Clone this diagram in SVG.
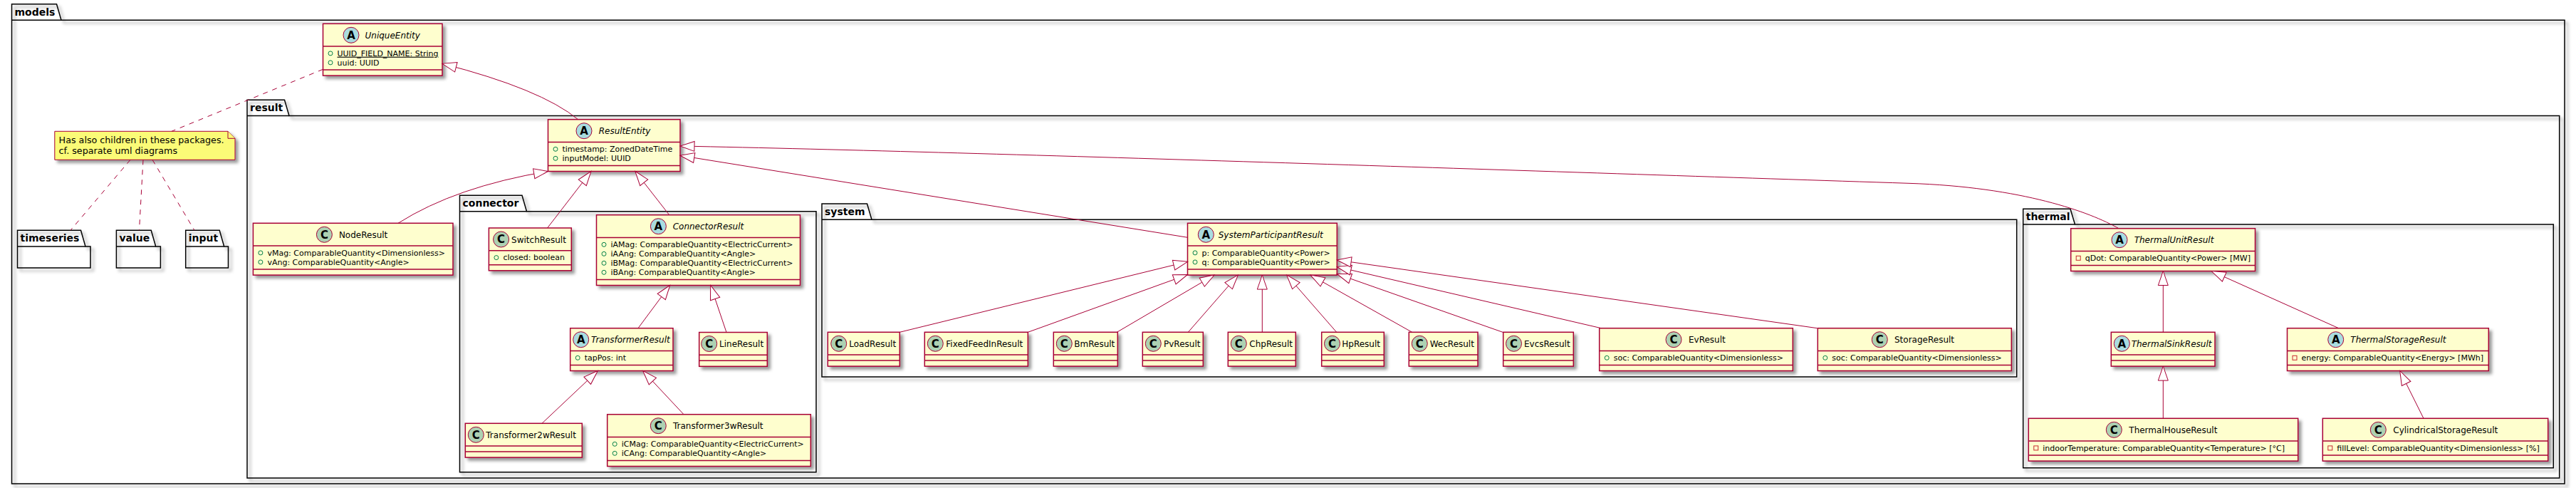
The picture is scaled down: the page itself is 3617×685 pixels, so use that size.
<svg xmlns="http://www.w3.org/2000/svg" width="3617" height="685" viewBox="0 0 3617 685">
<defs>
<filter id="sh" x="-0.1" y="-0.1" width="1.3" height="1.3">
<feGaussianBlur in="SourceAlpha" stdDeviation="2" result="b"/>
<feColorMatrix in="b" type="matrix" values="0 0 0 0 0  0 0 0 0 0  0 0 0 0 0  0 0 0 0.4 0" result="b2"/>
<feOffset in="b2" dx="4" dy="4" result="b3"/>
<feBlend in="SourceGraphic" in2="b3" mode="normal"/>
</filter>
<marker id="ext" markerUnits="userSpaceOnUse" markerWidth="22" markerHeight="16" viewBox="0 0 22 16" refX="20" refY="8" orient="auto" overflow="visible">
<path d="M20,8 L0,1 L0,15 Z" fill="#FFFFFF" stroke="#A80036" stroke-width="1"/>
</marker>
</defs>
<style>
text { font-family: "DejaVu Sans", "Liberation Sans", sans-serif; fill: #000000; }
.pkg { fill: none; stroke: #000000; stroke-width: 1.5; filter: url(#sh); }
.pkl { fill: none; stroke: #000000; stroke-width: 1.5; }
.pt { font-size: 14px; font-weight: bold; }
.box { fill: #FEFECE; stroke: #A80036; stroke-width: 1.5; filter: url(#sh); }
.dv { stroke: #A80036; stroke-width: 1.5; }
.cc { fill: #ADD1B2; stroke: #A80036; stroke-width: 1; }
.ca { fill: #A9DCDF; stroke: #A80036; stroke-width: 1; }
.lt { font-size: 15px; font-weight: bold; text-anchor: middle; }
.nm { font-size: 12px; }
.ab { font-style: italic; }
.at { font-size: 11px; }
.pub { fill: none; stroke: #038048; stroke-width: 1; }
.pri { fill: none; stroke: #C82930; stroke-width: 1; }
.note { fill: #FBFB77; stroke: #A80036; stroke-width: 1; filter: url(#sh); }
.nt { font-size: 13px; }
.ln { fill: none; stroke: #A80036; stroke-width: 1; marker-end: url(#ext); }
.dl { fill: none; stroke: #A80036; stroke-width: 1; stroke-dasharray: 7,7; }
</style>
<rect x="0" y="0" width="3617" height="685" fill="#FFFFFF"/>

<!-- packages -->
<g id="pkg-models">
<path class="pkg" d="M16.5,5.7 L79.5,5.7 L86,28.3 L3601,28.3 L3601,679 L16.5,679 Z"/>
<line class="pkl" x1="16.5" y1="28.3" x2="86" y2="28.3"/>
<text class="pt" x="20.5" y="21.7">models</text>
</g>
<g id="pkg-result">
<path class="pkg" d="M347,140.3 L399.5,140.3 L406,162.5 L3593.7,162.5 L3593.7,671 L347,671 Z"/>
<line class="pkl" x1="347" y1="162.5" x2="406" y2="162.5"/>
<text class="pt" x="351" y="156.3">result</text>
</g>
<g id="pkg-connector">
<path class="pkg" d="M645.5,274.3 L733,274.3 L739.5,296.7 L1146,296.7 L1146,662.7 L645.5,662.7 Z"/>
<line class="pkl" x1="645.5" y1="296.7" x2="739.5" y2="296.7"/>
<text class="pt" x="649.5" y="290.3">connector</text>
</g>
<g id="pkg-system">
<path class="pkg" d="M1154,286 L1217.5,286 L1224,308.3 L2831.7,308.3 L2831.7,529 L1154,529 Z"/>
<line class="pkl" x1="1154" y1="308.3" x2="1224" y2="308.3"/>
<text class="pt" x="1158" y="302">system</text>
</g>
<g id="pkg-thermal">
<path class="pkg" d="M2840.7,293.3 L2907,293.3 L2913.5,315 L3585.3,315 L3585.3,656.7 L2840.7,656.7 Z"/>
<line class="pkl" x1="2840.7" y1="315" x2="2913.5" y2="315"/>
<text class="pt" x="2844.7" y="309.3">thermal</text>
</g>
<g id="pkg-timeseries">
<path class="pkg" d="M24.5,323.3 L113.5,323.3 L120,346 L127,346 L127,376 L24.5,376 Z"/>
<line class="pkl" x1="24.5" y1="346" x2="120" y2="346"/>
<text class="pt" x="28.5" y="339.3">timeseries</text>
</g>
<g id="pkg-value">
<path class="pkg" d="M163.4,323.3 L212.2,323.3 L218.7,346 L225.4,346 L225.4,376 L163.4,376 Z"/>
<line class="pkl" x1="163.4" y1="346" x2="218.7" y2="346"/>
<text class="pt" x="167.4" y="339.3">value</text>
</g>
<g id="pkg-input">
<path class="pkg" d="M260.7,323.3 L308.2,323.3 L314.7,346 L320.5,346 L320.5,376 L260.7,376 Z"/>
<line class="pkl" x1="260.7" y1="346" x2="314.7" y2="346"/>
<text class="pt" x="264.7" y="339.3">input</text>
</g>

<!-- note -->
<g id="note">
<path class="note" d="M76.8,184.3 L320,184.3 L330,194.3 L330,224.3 L76.8,224.3 Z"/>
<path d="M320,184.3 L320,194.3 L330,194.3" fill="#FBFB77" stroke="#A80036" stroke-width="1"/>
<text class="nt" x="82.6" y="200.5" textLength="232" lengthAdjust="spacingAndGlyphs">Has also children in these packages.</text>
<text class="nt" x="82.6" y="215.7" textLength="166.5" lengthAdjust="spacingAndGlyphs">cf. separate uml diagrams</text>
</g>

<!-- classes -->
<g id="UniqueEntity">
<rect class="box" x="453.5" y="33.3" width="167.5" height="72.8"/>
<circle class="ca" cx="493" cy="49.3" r="11"/><text class="lt" x="493" y="54.6">A</text>
<text class="nm ab" x="512.5" y="53.8">UniqueEntity</text>
<line class="dv" x1="453.5" y1="65.1" x2="621" y2="65.1"/>
<circle class="pub" cx="464" cy="74.9" r="3"/><text class="at" x="473.5" y="78.7" text-decoration="underline" textLength="142" lengthAdjust="spacingAndGlyphs">UUID_FIELD_NAME: String</text>
<circle class="pub" cx="464" cy="87.9" r="3"/><text class="at" x="473.5" y="91.7">uuid: UUID</text>
<line class="dv" x1="453.5" y1="98.1" x2="621" y2="98.1"/>
</g>

<g id="ResultEntity">
<rect class="box" x="769.5" y="167.7" width="185.5" height="72.8"/>
<circle class="ca" cx="820" cy="183.7" r="11"/><text class="lt" x="820" y="189">A</text>
<text class="nm ab" x="840.7" y="188.2">ResultEntity</text>
<line class="dv" x1="769.5" y1="199.5" x2="955" y2="199.5"/>
<circle class="pub" cx="780" cy="209.3" r="3"/><text class="at" x="789.5" y="213.1">timestamp: ZonedDateTime</text>
<circle class="pub" cx="780" cy="222.3" r="3"/><text class="at" x="789.5" y="226.1">inputModel: UUID</text>
<line class="dv" x1="769.5" y1="232.5" x2="955" y2="232.5"/>
</g>

<g id="NodeResult">
<rect class="box" x="355.4" y="313.3" width="280.6" height="72.8"/>
<circle class="cc" cx="455.4" cy="329.3" r="11"/><text class="lt" x="455.4" y="334.6">C</text>
<text class="nm" x="475.9" y="333.8">NodeResult</text>
<line class="dv" x1="355.4" y1="345.1" x2="636" y2="345.1"/>
<circle class="pub" cx="365.9" cy="354.9" r="3"/><text class="at" x="375.4" y="358.7">vMag: ComparableQuantity&lt;Dimensionless&gt;</text>
<circle class="pub" cx="365.9" cy="367.9" r="3"/><text class="at" x="375.4" y="371.7">vAng: ComparableQuantity&lt;Angle&gt;</text>
<line class="dv" x1="355.4" y1="378.1" x2="636" y2="378.1"/>
</g>

<g id="SwitchResult">
<rect class="box" x="686.4" y="320" width="115.9" height="59.8"/>
<circle class="cc" cx="703.6" cy="336" r="11"/><text class="lt" x="703.6" y="341.3">C</text>
<text class="nm" x="718.1" y="340.5">SwitchResult</text>
<line class="dv" x1="686.4" y1="351.8" x2="802.3" y2="351.8"/>
<circle class="pub" cx="696.9" cy="361.6" r="3"/><text class="at" x="706.4" y="365.4">closed: boolean</text>
<line class="dv" x1="686.4" y1="371.8" x2="802.3" y2="371.8"/>
</g>

<g id="ConnectorResult">
<rect class="box" x="837.5" y="301.7" width="286" height="98.8"/>
<circle class="ca" cx="924.4" cy="317.7" r="11"/><text class="lt" x="924.4" y="323">A</text>
<text class="nm ab" x="944.7" y="322.2">ConnectorResult</text>
<line class="dv" x1="837.5" y1="333.5" x2="1123.5" y2="333.5"/>
<circle class="pub" cx="848" cy="343.3" r="3"/><text class="at" x="857.5" y="347.1">iAMag: ComparableQuantity&lt;ElectricCurrent&gt;</text>
<circle class="pub" cx="848" cy="356.3" r="3"/><text class="at" x="857.5" y="360.1">iAAng: ComparableQuantity&lt;Angle&gt;</text>
<circle class="pub" cx="848" cy="369.3" r="3"/><text class="at" x="857.5" y="373.1">iBMag: ComparableQuantity&lt;ElectricCurrent&gt;</text>
<circle class="pub" cx="848" cy="382.3" r="3"/><text class="at" x="857.5" y="386.1">iBAng: ComparableQuantity&lt;Angle&gt;</text>
<line class="dv" x1="837.5" y1="392.5" x2="1123.5" y2="392.5"/>
</g>

<g id="TransformerResult">
<rect class="box" x="800.7" y="460.7" width="144.3" height="59.8"/>
<circle class="ca" cx="815.7" cy="476.7" r="11"/><text class="lt" x="815.7" y="482">A</text>
<text class="nm ab" x="830" y="481.2">TransformerResult</text>
<line class="dv" x1="800.7" y1="492.5" x2="945" y2="492.5"/>
<circle class="pub" cx="811.2" cy="502.3" r="3"/><text class="at" x="820.7" y="506.1">tapPos: int</text>
<line class="dv" x1="800.7" y1="512.5" x2="945" y2="512.5"/>
</g>

<g id="LineResult">
<rect class="box" x="981.7" y="466.5" width="95.6" height="47.8"/>
<circle class="cc" cx="995.7" cy="482.5" r="11"/><text class="lt" x="995.7" y="487.8">C</text>
<text class="nm" x="1010" y="487">LineResult</text>
<line class="dv" x1="981.7" y1="498.3" x2="1077.3" y2="498.3"/>
<line class="dv" x1="981.7" y1="506.3" x2="1077.3" y2="506.3"/>
</g>

<g id="Transformer2wResult">
<rect class="box" x="653.3" y="594.3" width="164" height="47.8"/>
<circle class="cc" cx="668.3" cy="610.3" r="11"/><text class="lt" x="668.3" y="615.6">C</text>
<text class="nm" x="682.3" y="614.8">Transformer2wResult</text>
<line class="dv" x1="653.3" y1="626.1" x2="817.3" y2="626.1"/>
<line class="dv" x1="653.3" y1="634.1" x2="817.3" y2="634.1"/>
</g>

<g id="Transformer3wResult">
<rect class="box" x="852.7" y="581.7" width="285.6" height="72.8"/>
<circle class="cc" cx="924.3" cy="597.7" r="11"/><text class="lt" x="924.3" y="603">C</text>
<text class="nm" x="945" y="602.2">Transformer3wResult</text>
<line class="dv" x1="852.7" y1="613.5" x2="1138.3" y2="613.5"/>
<circle class="pub" cx="863.2" cy="623.3" r="3"/><text class="at" x="872.7" y="627.1">iCMag: ComparableQuantity&lt;ElectricCurrent&gt;</text>
<circle class="pub" cx="863.2" cy="636.3" r="3"/><text class="at" x="872.7" y="640.1">iCAng: ComparableQuantity&lt;Angle&gt;</text>
<line class="dv" x1="852.7" y1="646.5" x2="1138.3" y2="646.5"/>
</g>

<g id="SystemParticipantResult">
<rect class="box" x="1667.5" y="313.3" width="209.8" height="72.8"/>
<circle class="ca" cx="1693.3" cy="329.3" r="11"/><text class="lt" x="1693.3" y="334.6">A</text>
<text class="nm ab" x="1710.7" y="333.8">SystemParticipantResult</text>
<line class="dv" x1="1667.5" y1="345.1" x2="1877.3" y2="345.1"/>
<circle class="pub" cx="1678" cy="354.9" r="3"/><text class="at" x="1687.5" y="358.7">p: ComparableQuantity&lt;Power&gt;</text>
<circle class="pub" cx="1678" cy="367.9" r="3"/><text class="at" x="1687.5" y="371.7">q: ComparableQuantity&lt;Power&gt;</text>
<line class="dv" x1="1667.5" y1="378.1" x2="1877.3" y2="378.1"/>
</g>

<g id="LoadResult">
<rect class="box" x="1162.3" y="466.3" width="101" height="47.8"/>
<circle class="cc" cx="1177.7" cy="482.3" r="11"/><text class="lt" x="1177.7" y="487.6">C</text>
<text class="nm" x="1192.3" y="486.8">LoadResult</text>
<line class="dv" x1="1162.3" y1="498.1" x2="1263.3" y2="498.1"/>
<line class="dv" x1="1162.3" y1="506.1" x2="1263.3" y2="506.1"/>
</g>
<g id="FixedFeedInResult">
<rect class="box" x="1298.3" y="466.3" width="145" height="47.8"/>
<circle class="cc" cx="1313.3" cy="482.3" r="11"/><text class="lt" x="1313.3" y="487.6">C</text>
<text class="nm" x="1328.3" y="486.8">FixedFeedInResult</text>
<line class="dv" x1="1298.3" y1="498.1" x2="1443.3" y2="498.1"/>
<line class="dv" x1="1298.3" y1="506.1" x2="1443.3" y2="506.1"/>
</g>
<g id="BmResult">
<rect class="box" x="1479.3" y="466.3" width="90" height="47.8"/>
<circle class="cc" cx="1494.3" cy="482.3" r="11"/><text class="lt" x="1494.3" y="487.6">C</text>
<text class="nm" x="1508.3" y="486.8">BmResult</text>
<line class="dv" x1="1479.3" y1="498.1" x2="1569.3" y2="498.1"/>
<line class="dv" x1="1479.3" y1="506.1" x2="1569.3" y2="506.1"/>
</g>
<g id="PvResult">
<rect class="box" x="1604.3" y="466.3" width="85" height="47.8"/>
<circle class="cc" cx="1619.3" cy="482.3" r="11"/><text class="lt" x="1619.3" y="487.6">C</text>
<text class="nm" x="1634" y="486.8">PvResult</text>
<line class="dv" x1="1604.3" y1="498.1" x2="1689.3" y2="498.1"/>
<line class="dv" x1="1604.3" y1="506.1" x2="1689.3" y2="506.1"/>
</g>
<g id="ChpResult">
<rect class="box" x="1724.3" y="466.3" width="95" height="47.8"/>
<circle class="cc" cx="1739.3" cy="482.3" r="11"/><text class="lt" x="1739.3" y="487.6">C</text>
<text class="nm" x="1754.3" y="486.8">ChpResult</text>
<line class="dv" x1="1724.3" y1="498.1" x2="1819.3" y2="498.1"/>
<line class="dv" x1="1724.3" y1="506.1" x2="1819.3" y2="506.1"/>
</g>
<g id="HpResult">
<rect class="box" x="1855.7" y="466.3" width="87.6" height="47.8"/>
<circle class="cc" cx="1870.5" cy="482.3" r="11"/><text class="lt" x="1870.5" y="487.6">C</text>
<text class="nm" x="1884.3" y="486.8">HpResult</text>
<line class="dv" x1="1855.7" y1="498.1" x2="1943.3" y2="498.1"/>
<line class="dv" x1="1855.7" y1="506.1" x2="1943.3" y2="506.1"/>
</g>
<g id="WecResult">
<rect class="box" x="1978.3" y="466.3" width="96.7" height="47.8"/>
<circle class="cc" cx="1993.3" cy="482.3" r="11"/><text class="lt" x="1993.3" y="487.6">C</text>
<text class="nm" x="2007.7" y="486.8">WecResult</text>
<line class="dv" x1="1978.3" y1="498.1" x2="2075" y2="498.1"/>
<line class="dv" x1="1978.3" y1="506.1" x2="2075" y2="506.1"/>
</g>
<g id="EvcsResult">
<rect class="box" x="2110.7" y="466.3" width="98.6" height="47.8"/>
<circle class="cc" cx="2125.5" cy="482.3" r="11"/><text class="lt" x="2125.5" y="487.6">C</text>
<text class="nm" x="2140" y="486.8">EvcsResult</text>
<line class="dv" x1="2110.7" y1="498.1" x2="2209.3" y2="498.1"/>
<line class="dv" x1="2110.7" y1="506.1" x2="2209.3" y2="506.1"/>
</g>

<g id="EvResult">
<rect class="box" x="2245.7" y="460.7" width="271.6" height="59.8"/>
<circle class="cc" cx="2350" cy="476.7" r="11"/><text class="lt" x="2350" y="482">C</text>
<text class="nm" x="2371" y="481.2">EvResult</text>
<line class="dv" x1="2245.7" y1="492.5" x2="2517.3" y2="492.5"/>
<circle class="pub" cx="2256.2" cy="502.3" r="3"/><text class="at" x="2265.7" y="506.1">soc: ComparableQuantity&lt;Dimensionless&gt;</text>
<line class="dv" x1="2245.7" y1="512.5" x2="2517.3" y2="512.5"/>
</g>
<g id="StorageResult">
<rect class="box" x="2552.3" y="460.7" width="272" height="59.8"/>
<circle class="cc" cx="2639.3" cy="476.7" r="11"/><text class="lt" x="2639.3" y="482">C</text>
<text class="nm" x="2660" y="481.2">StorageResult</text>
<line class="dv" x1="2552.3" y1="492.5" x2="2824.3" y2="492.5"/>
<circle class="pub" cx="2562.8" cy="502.3" r="3"/><text class="at" x="2572.3" y="506.1">soc: ComparableQuantity&lt;Dimensionless&gt;</text>
<line class="dv" x1="2552.3" y1="512.5" x2="2824.3" y2="512.5"/>
</g>

<g id="ThermalUnitResult">
<rect class="box" x="2907.7" y="320.7" width="258.8" height="59.8"/>
<circle class="ca" cx="2976" cy="336.7" r="11"/><text class="lt" x="2976" y="342">A</text>
<text class="nm ab" x="2996.7" y="341.2">ThermalUnitResult</text>
<line class="dv" x1="2907.7" y1="352.5" x2="3166.5" y2="352.5"/>
<rect class="pri" x="2915.2" y="359.3" width="6" height="6"/><text class="at" x="2927.7" y="366.1">qDot: ComparableQuantity&lt;Power&gt; [MW]</text>
<line class="dv" x1="2907.7" y1="372.5" x2="3166.5" y2="372.5"/>
</g>
<g id="ThermalSinkResult">
<rect class="box" x="2964.3" y="466.3" width="145.7" height="47.8"/>
<circle class="ca" cx="2979.3" cy="482.3" r="11"/><text class="lt" x="2979.3" y="487.6">A</text>
<text class="nm ab" x="2992.7" y="486.8">ThermalSinkResult</text>
<line class="dv" x1="2964.3" y1="498.1" x2="3110" y2="498.1"/>
<line class="dv" x1="2964.3" y1="506.1" x2="3110" y2="506.1"/>
</g>
<g id="ThermalStorageResult">
<rect class="box" x="3211.5" y="460.7" width="282.8" height="59.8"/>
<circle class="ca" cx="3279.7" cy="476.7" r="11"/><text class="lt" x="3279.7" y="482">A</text>
<text class="nm ab" x="3300.3" y="481.2">ThermalStorageResult</text>
<line class="dv" x1="3211.5" y1="492.5" x2="3494.3" y2="492.5"/>
<rect class="pri" x="3219" y="499.3" width="6" height="6"/><text class="at" x="3231.5" y="506.1">energy: ComparableQuantity&lt;Energy&gt; [MWh]</text>
<line class="dv" x1="3211.5" y1="512.5" x2="3494.3" y2="512.5"/>
</g>
<g id="ThermalHouseResult">
<rect class="box" x="2848.3" y="587.3" width="378.4" height="59.8"/>
<circle class="cc" cx="2968.3" cy="603.3" r="11"/><text class="lt" x="2968.3" y="608.6">C</text>
<text class="nm" x="2989.3" y="607.8">ThermalHouseResult</text>
<line class="dv" x1="2848.3" y1="619.1" x2="3226.7" y2="619.1"/>
<rect class="pri" x="2855.8" y="625.9" width="6" height="6"/><text class="at" x="2868.3" y="632.7">indoorTemperature: ComparableQuantity&lt;Temperature&gt; [°C]</text>
<line class="dv" x1="2848.3" y1="639.1" x2="3226.7" y2="639.1"/>
</g>
<g id="CylindricalStorageResult">
<rect class="box" x="3261.3" y="587.3" width="316.4" height="59.8"/>
<circle class="cc" cx="3339.3" cy="603.3" r="11"/><text class="lt" x="3339.3" y="608.6">C</text>
<text class="nm" x="3360.3" y="607.8">CylindricalStorageResult</text>
<line class="dv" x1="3261.3" y1="619.1" x2="3577.7" y2="619.1"/>
<rect class="pri" x="3268.8" y="625.9" width="6" height="6"/><text class="at" x="3281.3" y="632.7">fillLevel: ComparableQuantity&lt;Dimensionless&gt; [%]</text>
<line class="dv" x1="3261.3" y1="639.1" x2="3577.7" y2="639.1"/>
</g>

<!-- connectors -->
<g id="connectors">
<path class="ln" d="M811.7,167.7 Q760,125 621,89.3"/>
<path class="ln" d="M559,313.3 Q640,262 769.5,240.5"/>
<path class="ln" d="M768.6,320 L830,240.5"/>
<path class="ln" d="M939.7,301.7 L891.9,240.5"/>
<path class="ln" d="M1667.5,333.3 L955,218.3"/>
<path class="ln" d="M2975,320.7 C2935,298 2840,262.5 2680,257.3 C2200,241.6 1400,214 955,205"/>
<path class="ln" d="M1263.3,466.3 L1667.5,367.3"/>
<path class="ln" d="M1443.3,466.3 L1667.5,385.5"/>
<path class="ln" d="M1568.3,466.3 L1705,386.1"/>
<path class="ln" d="M1668.3,466.3 L1738.3,386.1"/>
<path class="ln" d="M1772.3,466.3 L1772.3,386.1"/>
<path class="ln" d="M1876.7,466.3 L1806.7,386.1"/>
<path class="ln" d="M1982.7,466.3 L1840,386.1"/>
<path class="ln" d="M2110,466.3 L1877.3,384.5"/>
<path class="ln" d="M2248.3,460.7 L1877.3,374.5"/>
<path class="ln" d="M2551.7,460.7 L1877.3,365"/>
<path class="ln" d="M896,460.7 L940.7,400.5"/>
<path class="ln" d="M1020,466.5 L997.7,400.5"/>
<path class="ln" d="M761,594.3 L839.3,520.5"/>
<path class="ln" d="M960,581.7 L902.7,520.5"/>
<path class="ln" d="M3037.3,466.3 L3037.3,380.5"/>
<path class="ln" d="M3283.7,460.7 L3105,380.5"/>
<path class="ln" d="M3037.3,587.3 L3037.3,514.1"/>
<path class="ln" d="M3403,587.3 L3369.7,520.5"/>
<path class="dl" d="M453.5,97.3 L241,184.3"/>
<path class="dl" d="M183,224.3 L99,323.3"/>
<path class="dl" d="M201,224.3 L195.5,323.3"/>
<path class="dl" d="M214,224.3 L273,323.3"/>
</g>
</svg>
